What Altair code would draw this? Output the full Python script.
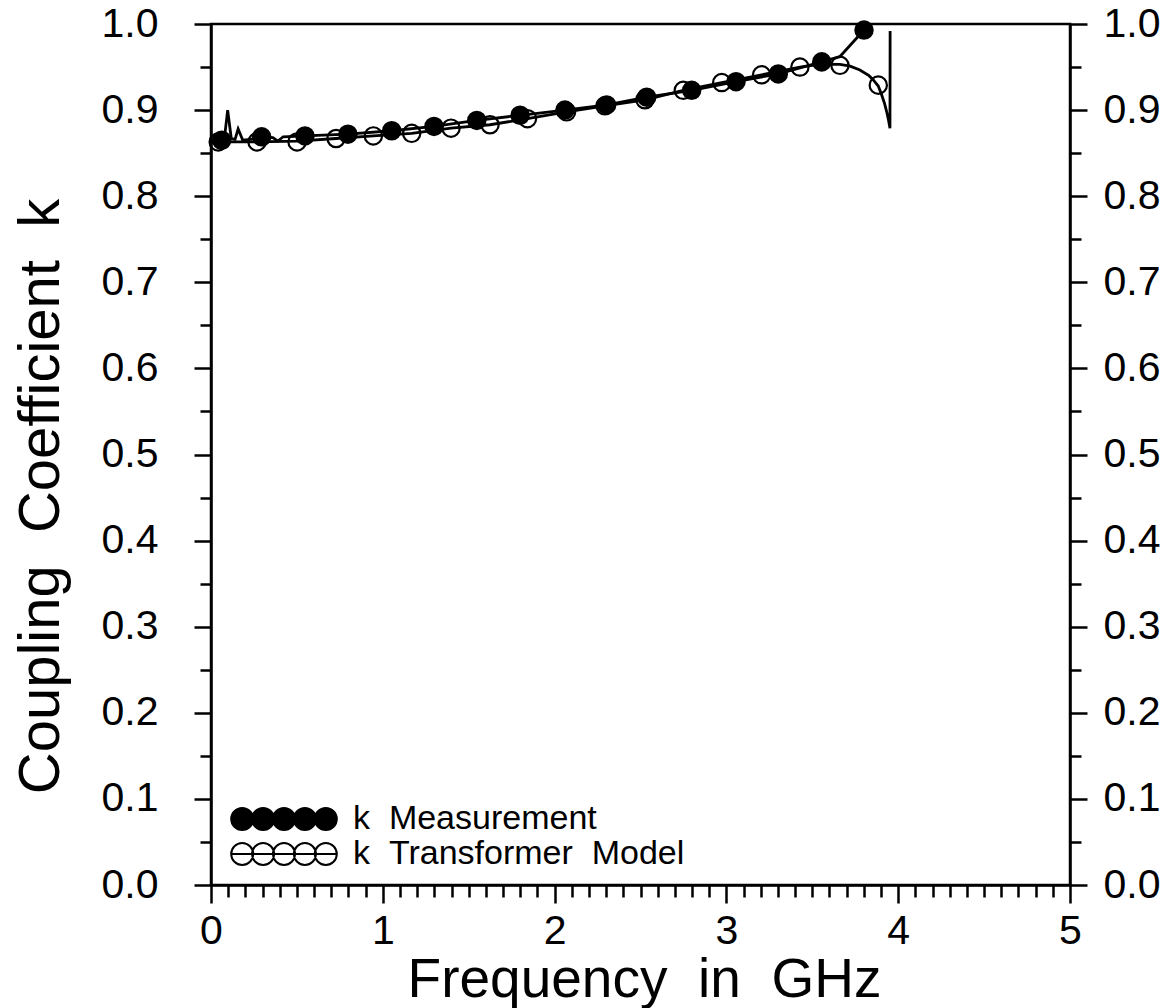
import altair as alt
import pandas as pd

NB = "\u00a0"
SERIES = [f"k{NB}{NB}Measurement", f"k{NB}{NB}Transformer{NB}{NB}Model"]

# Measurement: marker positions (GHz, k)
meas_mark_f = [0.062, 0.295, 0.547, 0.797, 1.052, 1.298, 1.547, 1.799, 2.060, 2.303,
               2.536, 2.798, 3.056, 3.302, 3.555, 3.801]
meas_mark_k = [0.865, 0.869, 0.870, 0.872, 0.876, 0.881, 0.888, 0.894, 0.900, 0.906,
               0.915, 0.923, 0.933, 0.942, 0.956, 0.993]

# Measurement: line trace
meas_line_f = [0.0, 0.03, 0.062, 0.078, 0.097, 0.118, 0.14, 0.158, 0.185, 0.23, 0.295,
               0.36, 0.39, 0.42, 0.547, 0.797, 1.052, 1.298, 1.547, 1.799, 2.060, 2.303,
               2.536, 2.798, 3.056, 3.302, 3.555, 3.66, 3.801]
meas_line_k = [0.863, 0.864, 0.865, 0.867, 0.900, 0.867, 0.866, 0.878, 0.865, 0.866, 0.869,
               0.868, 0.864, 0.869, 0.870, 0.872, 0.876, 0.881, 0.888, 0.894, 0.900, 0.906,
               0.915, 0.923, 0.933, 0.942, 0.956, 0.962, 0.993]

# Transformer model: marker positions
model_mark_f = [0.042, 0.268, 0.501, 0.728, 0.945, 1.168, 1.397, 1.624, 1.842, 2.070,
                2.293, 2.526, 2.749, 2.973, 3.205, 3.428, 3.661, 3.884]
model_mark_k = [0.863, 0.863, 0.863, 0.867, 0.870, 0.873, 0.879, 0.883, 0.890, 0.898,
                0.905, 0.912, 0.923, 0.932, 0.941, 0.950, 0.952, 0.929]

# Transformer model: line trace
model_line_f = [0.0, 0.042, 0.268, 0.501, 0.728, 0.945, 1.168, 1.397, 1.624, 1.842, 2.070,
                2.293, 2.526, 2.749, 2.973, 3.205, 3.428, 3.55, 3.661, 3.72, 3.777, 3.83,
                3.855, 3.884, 3.904, 3.92, 3.933, 3.944, 3.952, 3.953]
model_line_k = [0.862, 0.863, 0.863, 0.864, 0.867, 0.870, 0.873, 0.879, 0.883, 0.890, 0.898,
                0.905, 0.912, 0.923, 0.932, 0.941, 0.950, 0.9535, 0.953, 0.951, 0.9466, 0.940,
                0.935, 0.928, 0.9175, 0.908, 0.898, 0.888, 0.879, 0.992]

lines_df = pd.concat([
    pd.DataFrame({"f": meas_line_f, "k": meas_line_k, "series": SERIES[0],
                  "idx": range(len(meas_line_f))}),
    pd.DataFrame({"f": model_line_f, "k": model_line_k, "series": SERIES[1],
                  "idx": range(len(model_line_f))}),
])
points_df = pd.concat([
    pd.DataFrame({"f": meas_mark_f, "k": meas_mark_k, "series": SERIES[0]}),
    pd.DataFrame({"f": model_mark_f, "k": model_mark_k, "series": SERIES[1]}),
])

FONT = "Liberation Sans"

x_ticks = [round(i * 0.1, 1) for i in range(51)]
y_ticks = [round(i * 0.05, 2) for i in range(21)]
x_major = "abs(datum.value - round(datum.value)) < 0.001"
y_major = "abs(datum.value * 10 - round(datum.value * 10)) < 0.001"

x_axis = alt.Axis(
    values=x_ticks, orient="bottom", grid=False,
    tickSize={"condition": {"test": x_major, "value": 18}, "value": 12},
    labelExpr=f"{x_major} ? format(datum.value, 'd') : ''",
    tickColor="black", tickWidth=2.5, domainColor="black", domainWidth=2.5,
    labelFont=FONT, labelFontSize=41, labelColor="black", labelPadding=8,
    labelFlush=False, labelOverlap=False, labelBaseline="top",
    title=f"Frequency{NB}{NB}in{NB}{NB}GHz", titleFont=FONT, titleFontSize=55,
    titleColor="black", titleFontWeight="normal", titleBaseline="alphabetic",
    titleX=433, titleY=111, titleAlign="center",
)

x_enc = alt.X("f:Q", scale=alt.Scale(domain=[0, 5], nice=False, zero=False), axis=x_axis)

y_scale = alt.Scale(domain=[0, 1], nice=False, zero=False)

y_left = alt.Y("k:Q", scale=y_scale, axis=alt.Axis(
    values=y_ticks, orient="left", grid=False,
    tickSize={"condition": {"test": y_major, "value": 17}, "value": 11},
    labelExpr=f"{y_major} ? format(datum.value, '.1f') : ''",
    tickColor="black", tickWidth=2.5, domainColor="black", domainWidth=2.5,
    labelFont=FONT, labelFontSize=41, labelColor="black", labelPadding=36,
    labelFlush=False, labelOverlap=False,
    title=f"Coupling{NB}{NB}Coefficient{NB}{NB}k", titleFont=FONT, titleFontSize=58,
    titleColor="black", titleFontWeight="normal", titleAngle=270, titleAlign="center",
    titleBaseline="alphabetic", titleX=-153, titleY=472,
))

y_right = alt.Y("k:Q", scale=y_scale, axis=alt.Axis(
    values=y_ticks, orient="right", grid=False,
    tickSize={"condition": {"test": y_major, "value": 17}, "value": 11},
    labelExpr=f"{y_major} ? format(datum.value, '.1f') : ''",
    tickColor="black", tickWidth=2.5, domainColor="black", domainWidth=2.5,
    labelFont=FONT, labelFontSize=41, labelColor="black", labelPadding=16,
    labelFlush=False, labelOverlap=False, title=None,
))


def circles_path(n=5, step=1.9):
    parts = []
    half = (n - 1) / 2
    for i in range(n):
        cx = (i - half) * step
        parts.append(f"M{cx + 1:.3f},0A1,1 0 1,1 {cx - 1:.3f},0A1,1 0 1,1 {cx + 1:.3f},0Z")
    ext = half * step + 1.0
    parts.append(f"M{-ext:.3f},0L{ext:.3f},0")
    return "".join(parts)


legend = alt.Legend(
    orient="none", legendX=56, legendY=778, title=None, padding=0,
    symbolType=circles_path(), symbolSize=484, symbolStrokeColor="black",
    symbolStrokeWidth=2, labelFont=FONT, labelFontSize=34, labelColor="black",
    labelOffset=52, rowPadding=1, labelLimit=600,
)

lines = alt.Chart(lines_df).mark_line(color="black", strokeWidth=2.8).encode(
    x=x_enc, y=y_left, detail="series:N", order="idx:Q",
)

points = alt.Chart(points_df).mark_point(
    shape="circle", size=300, strokeWidth=2.2, stroke="black", opacity=1,
).encode(
    x=x_enc, y=y_right,
    fill=alt.Fill("series:N", scale=alt.Scale(domain=SERIES, range=["black", "transparent"]),
                  legend=legend),
)

chart = alt.layer(lines, points).resolve_axis(y="independent").properties(
    width=859, height=861,
    padding={"left": 211, "top": 24, "right": 103, "bottom": 123},
    autosize=alt.AutoSizeParams(type="none"),
    background="white",
).configure_view(stroke="black", strokeWidth=2.5)

chart.save("out.html", embed_options={"renderer": "svg", "actions": False})
